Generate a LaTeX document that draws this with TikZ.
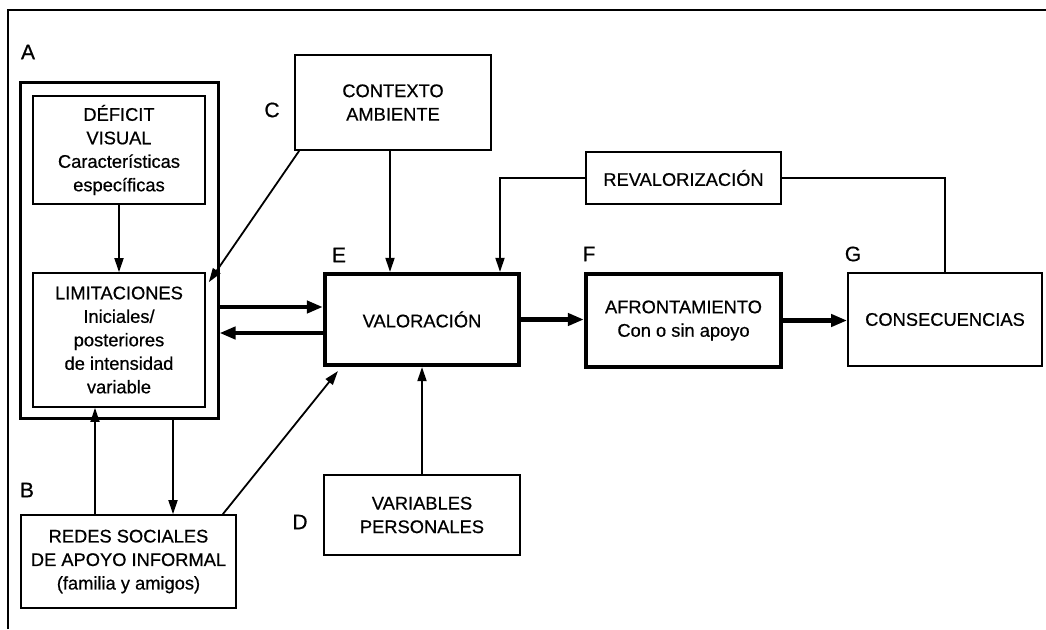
\documentclass[tikz,border=0pt]{standalone}
\usepackage{fontspec}
\setmainfont{Liberation Sans}
\newfontfamily\diagfont{Liberation Sans}[FakeBold=0.6]
\usetikzlibrary{arrows.meta}

\begin{document}
\begin{tikzpicture}[x=1pt,y=-1pt,
  every node/.style={font=\diagfont\fontsize{18.3}{23.5}\selectfont, inner sep=0pt, align=center},
  box/.style={draw, line width=1.7pt, rectangle},
  heavybox/.style={draw, line width=4.2pt, rectangle},
  groupbox/.style={draw, line width=3pt, rectangle},
  tag/.style={font=\diagfont\fontsize{21}{24}\selectfont},
  thinarrow/.style={line width=1.8pt, -{Triangle[length=14pt,width=9pt]}},
  thinline/.style={line width=1.8pt},
  fatarrow/.style={line width=4.2pt, -{Triangle[length=16pt,width=12pt]}}
]
\useasboundingbox (0,0) rectangle (1046,629);

% page frame
\draw[line width=1.2pt] (8,629) -- (8,10) -- (1046,10);

% group A with its two inner boxes
\node[groupbox, minimum width=198pt, minimum height=336pt] (Abox) at (119,250) {};
\node[box, minimum width=172pt, minimum height=108pt] (def) at (119,150)
  {DÉFICIT\\VISUAL\\Características\\específicas};
\node[box, minimum width=172pt, minimum height=134pt] (lim) at (119,340)
  {LIMITACIONES\\Iniciales/\\posteriores\\de intensidad\\variable};

% remaining boxes
\node[box, minimum width=196pt, minimum height=95pt] (ctx) at (393,102.5)
  {CONTEXTO\\AMBIENTE};
\node[heavybox, minimum width=194pt, minimum height=91pt] (val) at (422,319.5)
  {VALORACIÓN};
\node[box, minimum width=195pt, minimum height=52pt] (rev) at (683.5,178)
  {REVALORIZACIÓN};
\node[heavybox, minimum width=195pt, minimum height=93pt] (afr) at (683.5,320.5)
  {AFRONTAMIENTO\\Con o sin apoyo};
\node[box, minimum width=194pt, minimum height=93pt] (cons) at (945,319.5)
  {CONSECUENCIAS};
\node[box, minimum width=215pt, minimum height=93pt] (redes) at (128.5,561.5)
  {REDES SOCIALES\\DE APOYO INFORMAL\\(familia y amigos)};
\node[box, minimum width=196pt, minimum height=80pt] (var) at (422,515)
  {VARIABLES\\PERSONALES};

% letter tags
\node[tag] (tA) at (28,52) {A};
\node[tag] (tB) at (27,490) {B};
\node[tag] (tC) at (272,110) {C};
\node[tag] (tD) at (300,522) {D};
\node[tag] (tE) at (339,255) {E};
\node[tag] (tF) at (589,254) {F};
\node[tag] (tG) at (853,254) {G};

% connectors
\draw[thinarrow] (def.south) -- (lim.north);
\draw[thinarrow] ([xshift=5pt]ctx.south west) -- ([xshift=3pt,yshift=-10pt]lim.north east);
\draw[thinarrow] ([xshift=-3pt]ctx.south) -- ([xshift=-3pt]ctx.south |- val.north);

\path ([yshift=12.5pt]val.west) coordinate (vin);
\path ([yshift=-13.5pt]val.west) coordinate (vout);
\draw[fatarrow] (Abox.east |- vin) -- (vin);
\draw[fatarrow] (vout) -- (Abox.east |- vout);

\draw[fatarrow] (val.east) -- (val.east -| afr.west);
\draw[fatarrow] (afr.east) -- (afr.east -| cons.west);

\draw[thinarrow] (rev.west) -| ([xshift=78pt]val.north);
\draw[thinline] (rev.east) -| (cons.north);

\draw[thinarrow] ([xshift=-33.5pt]redes.north) -- ([xshift=-33.5pt]redes.north |- lim.south);
\draw[thinarrow] ([xshift=54pt]Abox.south) -- ([xshift=54pt]Abox.south |- redes.north);
\draw[thinarrow] ([xshift=-14pt]redes.north east) -- ([xshift=15pt,yshift=-4pt]val.south west);
\draw[thinarrow] (var.north) -- (val.south);

\end{tikzpicture}
\end{document}
